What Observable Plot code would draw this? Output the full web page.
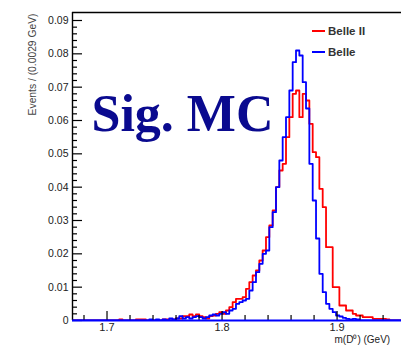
<!DOCTYPE html>
<html><head><meta charset="utf-8">
<script src="https://cdn.jsdelivr.net/npm/d3@7"></script>
<script src="https://cdn.jsdelivr.net/npm/@observablehq/plot@0.6"></script>
<style>
html,body{margin:0;padding:0;background:#fff;overflow:hidden;}
#chart{position:relative;width:401px;height:345px;overflow:hidden;}
.leg{position:absolute;font-family:"Liberation Sans",Arial,sans-serif;font-size:11.5px;font-weight:bold;color:#333;display:flex;align-items:center;white-space:nowrap;}
.leg span.ln{display:inline-block;width:13px;height:0;border-top:2px solid;margin-right:3px;}
</style></head><body><div id="chart"></div>
<script>
// histogram binning
const binStart = 1.67;
const binWidth = 0.0029;
const xEnd = 1.956;
const yTop = 0.0924;

// Belle II (red) bin contents, bins k = 0.. from binStart
const belleII = [
  0,0,0,0,0,0,0,0,0,0,
  0,0,0,0,0.0003,0,0,0,0,0.0003,
  0.0003,0.0003,0,0,0,0,0,0.0003,0.0003,0,
  0.0003,0.0006,0.0006,0.0013,0.0013,0.0018,0.0013,0.0018,0.0013,0.001,
  0.0006,0.0013,0.0015,0.002,0.0025,0.002,0.003,0.004,0.0055,0.0065,
  0.0065,0.007,0.0095,0.0115,0.0135,0.015,0.018,0.021,0.025,0.0285,
  0.033,0.040,0.045,0.047,0.055,0.061,0.068,0.069,0.061,0.068,
  0.066,0.059,0.0505,0.049,0.0395,0.034,0.022,0.022,0.010,0.010,
  0.0045,0.0045,0.003,0.003,0.002,0.0015,0.0015,0.001,0.001,0.001,
  0.0005,0.0005,0.0005,0.0005,0.0003,0,0,0,0,0
];
// Belle (blue) bin contents
const belle = [
  0,0,0,0,0,0,0,0,0,0,
  0,0,0,0,0,0,0,0,0,0,
  0,0,0,0.0003,0,0.0003,0,0.0003,0,0.0006,
  0.0003,0.0006,0.0013,0.0006,0.001,0.0006,0.001,0.0013,0.001,0.0006,
  0.001,0.0015,0.0018,0.0015,0.002,0.0025,0.002,0.003,0.0035,0.005,
  0.0055,0.006,0.0065,0.009,0.0115,0.0145,0.017,0.020,0.021,0.028,
  0.0325,0.040,0.048,0.055,0.061,0.069,0.0775,0.081,0.0795,0.0715,
  0.0636,0.047,0.036,0.0246,0.014,0.0085,0.005,0.0035,0.0025,0.0015,
  0.0012,0.0008,0.0005,0.0003,0.0005,0.0003,0,0,0,0,
  0,0,0,0,0,0,0,0,0,0
];
const seriesNames = ["Belle II", "Belle"];
const seriesColors = ["#ff0000", "#0000ff"];

const xMajorTicks = [1.7, 1.8, 1.9];
const xTickLabels = ["1.7", "1.8", "1.9"];
const xMinorTicks = [1.68, 1.72, 1.74, 1.76, 1.78, 1.82, 1.84, 1.86, 1.88, 1.92, 1.94];
const yMajorTicks = [0, 0.01, 0.02, 0.03, 0.04, 0.05, 0.06, 0.07, 0.08, 0.09];
const yTickLabels = ["0", "0.01", "0.02", "0.03", "0.04", "0.05", "0.06", "0.07", "0.08", "0.09"];
const yMinorTicks = d3.range(0, 46).map(i => +(i * 0.002).toFixed(3)).filter(v => !yMajorTicks.some(m => Math.abs(m - v) < 1e-9));

const yTitle = "Events / (0.0029 GeV)";
const xTitle = "m(D\u2070) (GeV)";
const stamp = "Sig. MC";

function steps(values, name) {
  const pts = values.map((v, k) => ({x: binStart + k * binWidth, y: v, s: name}));
  pts.push({x: binStart + values.length * binWidth, y: values[values.length - 1], s: name});
  return pts;
}
const redPts = steps(belleII, seriesNames[0]);
const bluePts = steps(belle, seriesNames[1]);

const W = 401, H = 345, mL = 72, mR = 0, mT = 12, mB = 25;
const innerW = W - mL - mR, innerH = H - mT - mB;

const plot = Plot.plot({
  width: W, height: H,
  marginLeft: mL, marginRight: mR, marginTop: mT, marginBottom: mB,
  style: {fontFamily: "'Liberation Sans', Arial, sans-serif", fontSize: "10px", background: "#fff", color: "#222"},
  x: {domain: [binStart, xEnd], label: null},
  y: {domain: [0, yTop], label: null},
  marks: [
    // histograms
    Plot.line(redPts, {x: "x", y: "y", curve: "step-after", stroke: seriesColors[0], strokeWidth: 1.8, clip: true}),
    Plot.line(bluePts, {x: "x", y: "y", curve: "step-after", stroke: seriesColors[1], strokeWidth: 1.8, clip: true}),
    // frame lines
    Plot.ruleX([binStart], {stroke: "#000", strokeWidth: 1.4}),
    Plot.ruleY([yTop], {stroke: "#000", strokeWidth: 1.4}),
    // inner ticks
    Plot.ruleX(xMajorTicks, {stroke: "#000", strokeWidth: 1.2, insetTop: innerH - 9}),
    Plot.ruleX(xMinorTicks, {stroke: "#000", strokeWidth: 1.2, insetTop: innerH - 5}),
    Plot.ruleY(yMajorTicks, {stroke: "#000", strokeWidth: 1.2, insetRight: innerW - 10}),
    Plot.ruleY(yMinorTicks, {stroke: "#000", strokeWidth: 1.2, insetRight: innerW - 5}),
    // axis labels
    Plot.axisX({ticks: xMajorTicks, tickFormat: (d, i) => xTickLabels[i], tickSize: 0, tickPadding: 3, label: null, fontSize: 11}),
    Plot.axisY({ticks: yMajorTicks, tickFormat: (d, i) => yTickLabels[i], tickSize: 0, tickPadding: 4, label: null, fontSize: 10.5}),
    // blue baseline on top
    Plot.ruleY([0], {stroke: "#0000ff", strokeWidth: 1.8}),
    // titles
    Plot.text([yTitle], {frameAnchor: "top-left", dx: -44, dy: 1, rotate: -90, textAnchor: "end", fontSize: 10.3, fill: "#444"}),
    Plot.text([xTitle], {frameAnchor: "bottom-left", dx: 262, dy: 22, textAnchor: "start", fontSize: 10, fill: "#222"}),
    Plot.text([stamp], {frameAnchor: "top-left", dx: 19, dy: 118, textAnchor: "start", lineAnchor: "bottom", fontSize: 52, fontWeight: "bold", fontFamily: "'Liberation Serif', 'Times New Roman', serif", fill: "#0a0a8f"})
  ]
});
const chart = document.getElementById("chart");
chart.appendChild(plot);

// legend overlay
seriesNames.forEach((name, i) => {
  const d = document.createElement("div");
  d.className = "leg";
  d.style.left = "312px";
  d.style.top = (25 + i * 21) + "px";
  d.innerHTML = `<span class="ln" style="border-color:${seriesColors[i]}"></span>${name}`;
  chart.appendChild(d);
});
</script></body></html>
